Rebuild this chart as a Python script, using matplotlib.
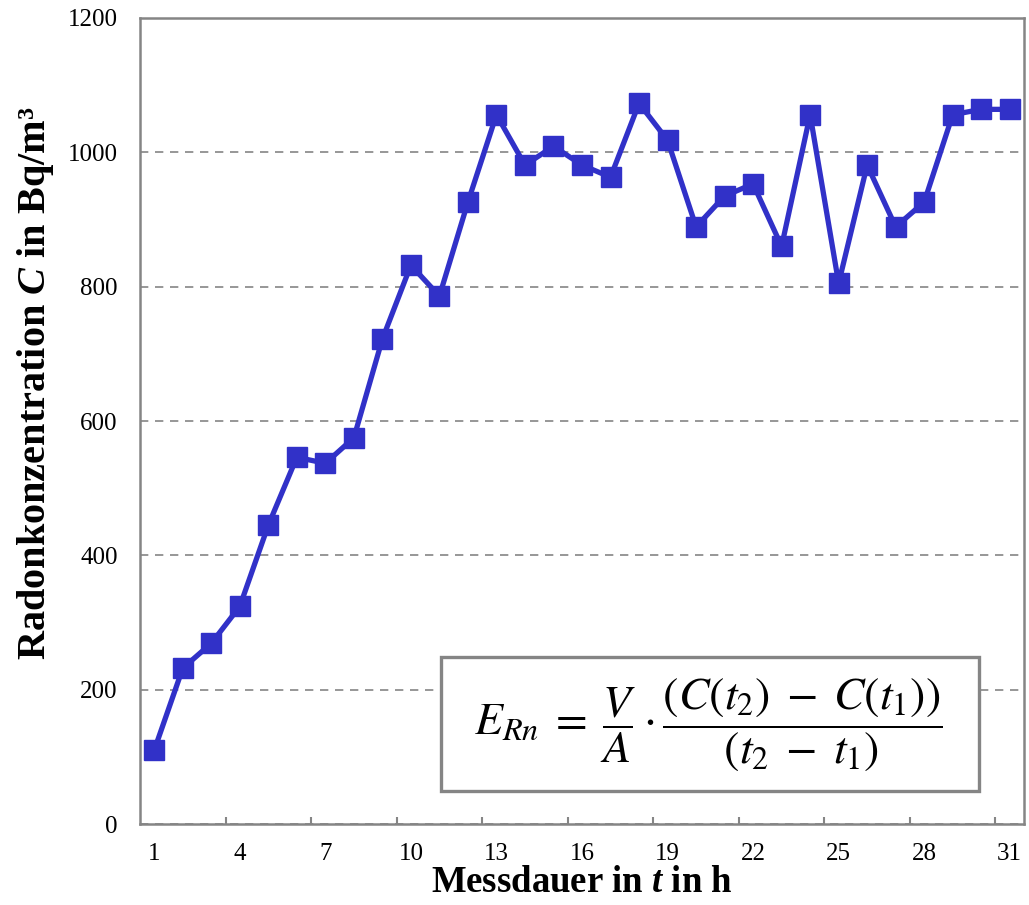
import numpy as np
import matplotlib
matplotlib.use("Agg")
import matplotlib.pyplot as plt
from matplotlib.patches import Rectangle
from matplotlib.ticker import FixedLocator

# Messwerte: Radonkonzentration je Stunde
stunden = list(range(1, 32))
konzentration = [110, 232, 269, 324, 445, 546, 537, 575, 722, 832,
                 786, 926, 1056, 981, 1009, 981, 963, 1073, 1018, 889,
                 935, 953, 860, 1056, 805, 981, 889, 926, 1056, 1064, 1064]
y_ticks = [0, 200, 400, 600, 800, 1000, 1200]
x_labels = [1, 4, 7, 10, 13, 16, 19, 22, 25, 28, 31]

plt.rcParams['font.family'] = 'Liberation Serif'
plt.rcParams['mathtext.fontset'] = 'custom'
plt.rcParams['mathtext.rm'] = 'Liberation Serif:bold'
plt.rcParams['mathtext.it'] = 'Liberation Serif:bold:italic'
plt.rcParams['mathtext.bf'] = 'Liberation Serif:bold'

achse_grau = '#858585'
linie_blau = '#3131C8'

W, H = 1029, 905
fig = plt.figure(figsize=(W / 100, H / 100), dpi=100)
ax = fig.add_axes([140 / W, 81 / H, 884 / W, 806 / H])

ax.plot(stunden, konzentration, color=linie_blau, lw=3.8, marker='s',
        markersize=14.5, markerfacecolor=linie_blau, markeredgecolor=linie_blau,
        zorder=3)

ax.set_xlim(0.5, 31.5)
ax.set_ylim(0, 1200)
ax.set_yticks(y_ticks)
ax.set_xticks(x_labels)
ax.xaxis.set_minor_locator(FixedLocator(np.arange(3.5, 31, 3)))

ax.yaxis.grid(True, linestyle=(0, (5, 4)), color=achse_grau, lw=1.2)
ax.set_axisbelow(True)

for s in ax.spines.values():
    s.set_color(achse_grau)
    s.set_linewidth(1.8)

ax.tick_params(axis='y', length=0, pad=16, labelsize=18)
ax.tick_params(axis='x', which='major', length=0, pad=14, labelsize=18)
ax.tick_params(axis='x', which='minor', direction='in', length=5,
               width=1.5, color=achse_grau)

ax.set_xlabel('Messdauer in $t$ in h', fontsize=26.5, fontweight='bold',
              labelpad=0)
fig.text(36 / W, 1 - 383 / H, 'Radonkonzentration $C$ in Bq/m³',
         rotation=90, fontsize=29, fontweight='bold', ha='center', va='center')

# Formelkasten für die Exhalationsrate
fig.patches.append(Rectangle((441 / W, 1 - 791 / H), 538 / W, 134 / H,
                             transform=fig.transFigure, facecolor='white',
                             edgecolor=achse_grau, linewidth=2.4, zorder=5))
formel = (r'$E_{Rn}\;=\;\dfrac{V}{A}\cdot'
          r'\dfrac{\left(C(t_2)\;-\;C(t_1)\right)}{(t_2\;-\;t_1)}$')
fig.text(708 / W, 1 - 725 / H, formel, fontsize=33, ha='center',
         va='center', math_fontfamily='stix', zorder=6)

fig.savefig('out.png', dpi=100)
